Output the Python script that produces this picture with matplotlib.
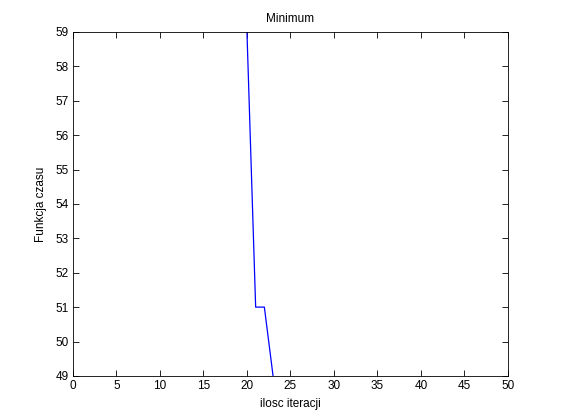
import matplotlib as mpl
mpl.use('Agg')
import matplotlib.pyplot as plt

# iteracje i wartosci funkcji
iteracje = [20, 21, 22, 23]
czas = [59, 51, 51, 49]

plt.rcParams['font.family'] = ['Liberation Sans', 'DejaVu Sans']
plt.rcParams['font.size'] = 8

fig = plt.figure(figsize=(5.61, 4.2), dpi=100)
ax = fig.add_axes([0.130, 0.105, 0.7755, 0.819])
ax.plot(iteracje, czas, color='blue', linewidth=0.9)
ax.set_xlim(0, 50)
ax.set_ylim(49, 59)
ax.set_xticks(range(0, 51, 5))
ax.set_yticks(range(49, 60))
ax.tick_params(direction='in', top=True, right=True, length=4, width=0.6,
               labelsize=8.5, pad=3)
for s in ax.spines.values():
    s.set_linewidth(0.6)
ax.set_title('Minimum', fontsize=8.5, pad=7)
ax.set_xlabel('ilosc iteracji', fontsize=8.5, labelpad=4)
ax.set_ylabel('Funkcja czasu', fontsize=8.5, labelpad=6)
fig.savefig('out.png', dpi=100)
